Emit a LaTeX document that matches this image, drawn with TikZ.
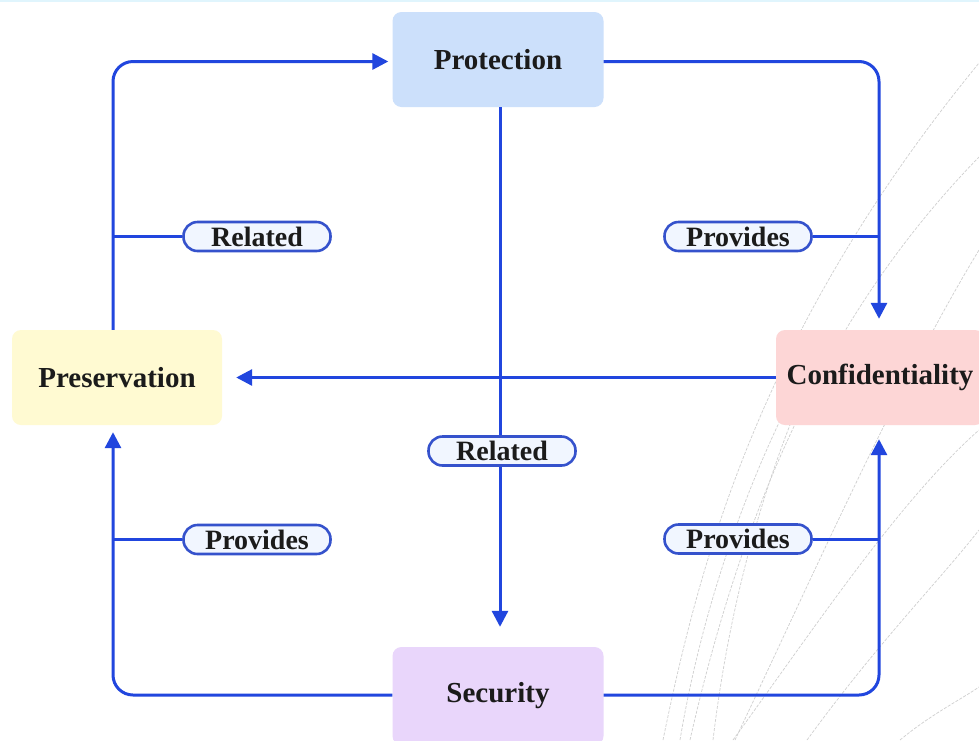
\documentclass[tikz,border=0pt]{standalone}
\usepackage{fontspec}
\setmainfont{Liberation Serif}
\usetikzlibrary{arrows.meta}

\definecolor{linkblue}{HTML}{2146DE}
\definecolor{pillrim}{HTML}{3552CC}
\definecolor{pillfill}{HTML}{F1F6FF}
\definecolor{protfill}{HTML}{CCE0FB}
\definecolor{presfill}{HTML}{FFFAD2}
\definecolor{conffill}{HTML}{FDD6D6}
\definecolor{secfill}{HTML}{E9D6FB}
\definecolor{textdark}{HTML}{1B1B1B}
\definecolor{swoosh}{HTML}{CFCFCF}

\tikzset{
  conceptbox/.style={rounded corners=9pt, minimum width=211pt, minimum height=95pt,
    text=textdark, font=\fontsize{29}{31}\selectfont\bfseries, inner sep=0pt},
  pill/.style={draw=pillrim, line width=2.6pt, fill=pillfill, rounded corners=14pt,
    minimum width=147pt, minimum height=29pt, inner sep=0pt,
    text=textdark, font=\fontsize{28}{30}\selectfont\bfseries},
  link/.style={draw=linkblue, line width=3pt, rounded corners=20pt},
  arrowlink/.style={link, -{Triangle[length=16pt,width=16pt]}},
  swooshline/.style={draw=swoosh, line width=0.7pt, dash pattern=on 3pt off 1.5pt}
}

\begin{document}
\begin{tikzpicture}[x=1pt,y=-1pt]
\useasboundingbox (0,0) rectangle (979,740);
\fill[white] (0,0) rectangle (979,740);

% decorative swoosh lines in the lower right
\draw[swooshline] (663,740) .. controls (700,560) and (760,330) .. (979,63);
\draw[swooshline] (690,740) .. controls (740,520) and (820,320) .. (979,157);
\draw[swooshline] (735,740) .. controls (820,560) and (900,380) .. (979,250);
\draw[swooshline] (733,740) .. controls (820,620) and (900,500) .. (979,430);
\draw[swooshline] (807,740) .. controls (880,640) and (940,580) .. (979,530);
\draw[swooshline] (900,740) .. controls (930,715) and (960,700) .. (979,687);
\draw[swooshline] (680,740) .. controls (700,620) and (740,500) .. (790,400);
\draw[swooshline] (713,740) .. controls (725,640) and (750,520) .. (800,400);

% thin rule along the top edge
\draw[cyan!12, line width=2pt] (0,1) -- (979,1);

% concept boxes
\node[conceptbox, fill=protfill] (prot) at (498,59.5) {Protection};
\node[conceptbox, fill=presfill, minimum width=210pt] (pres) at (117,377.5) {Preservation};
\node[conceptbox, fill=conffill, minimum width=208pt] (conf) at (880,377.5) {Confidentiality};
\node[conceptbox, fill=secfill, minimum height=98pt] (sec) at (498,696) {Security};

% vertical rails on both sides
\coordinate (lrail) at (113,0);
\coordinate (rrail) at (879,0);

% connectors between the boxes
\draw[arrowlink, shorten >=4pt] (pres.north -| lrail) |- ([yshift=-2pt]prot.west);
\draw[arrowlink, shorten >=11pt] ([yshift=-2pt]prot.east) -| (conf.north -| rrail);
\draw[arrowlink, shorten >=14pt] (conf.west) -- (pres.east);
\draw[arrowlink, shorten >=20pt] ([xshift=2pt]prot.south) -- ([xshift=2pt]sec.north);
\draw[arrowlink, shorten >=7pt] ([yshift=1pt]sec.west) -| (pres.south -| lrail);
\draw[arrowlink, shorten >=14pt] ([yshift=1pt]sec.east) -| (conf.south -| rrail);

% relation labels
\node[pill] (relleft) at (257,236.5) {Related};
\node[pill] (provtop) at (738,236.5) {Provides};
\node[pill] (relmid) at (502,451) {Related};
\node[pill] (provleft) at (257,539.5) {Provides};
\node[pill] (provbot) at (738,539) {Provides};

% label stubs to the rails
\draw[link] (relleft.west) -- (relleft.west -| lrail);
\draw[link] (provtop.east) -- (provtop.east -| rrail);
\draw[link] (provleft.west) -- (provleft.west -| lrail);
\draw[link] (provbot.east) -- (provbot.east -| rrail);
\end{tikzpicture}
\end{document}
